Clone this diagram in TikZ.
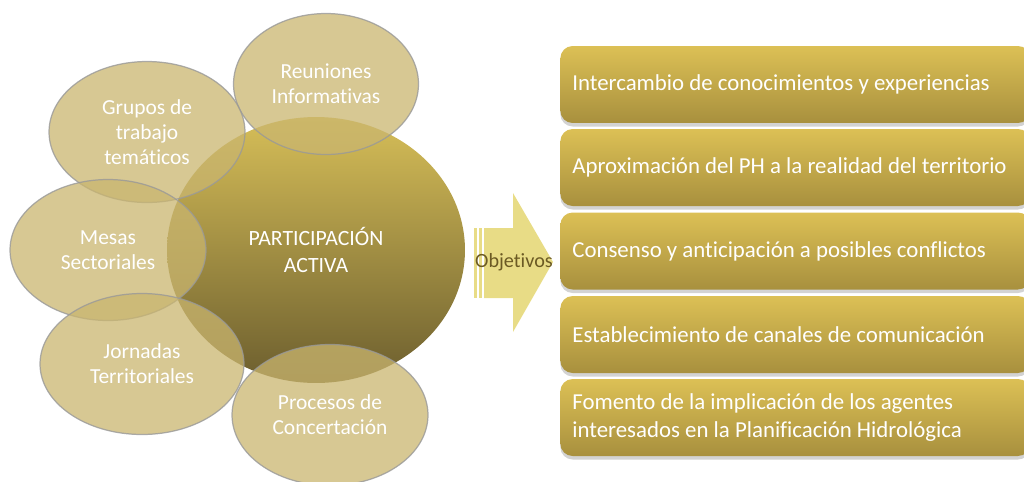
\documentclass[tikz,border=0pt]{standalone}
\usepackage{fontspec}
\setmainfont{Carlito}[Ligatures=NoCommon]
\usepackage{xcolor}
\usetikzlibrary{shapes,shadows,positioning}

\definecolor{tanfill}{HTML}{C9B56F}
\definecolor{bigtop}{HTML}{D6BE58}
\definecolor{bigbot}{HTML}{6C5E2E}
\definecolor{boxtop}{HTML}{DCC055}
\definecolor{boxbot}{HTML}{A8903E}
\definecolor{arrowfill}{HTML}{E8DC86}
\definecolor{arrowtext}{HTML}{6B5A24}

\begin{document}
\begin{tikzpicture}[
    x=0.02cm, y=-0.02cm,
    hub/.style={ellipse, minimum width=5.96cm, minimum height=5.32cm, inner sep=0pt,
        top color=bigtop, bottom color=bigbot, draw=none,
        text=white, align=center, font=\fontsize{12.4}{15.9}\selectfont},
    spoke/.style={ellipse, minimum width=3.92cm, minimum height=2.82cm, inner sep=0pt,
        fill=tanfill, fill opacity=0.75, text opacity=1, draw=gray!80, draw opacity=0.8, line width=0.7pt,
        text=white, align=center, font=\fontsize{12.2}{14.2}\selectfont},
    goal/.style={rectangle, rounded corners=7pt, minimum width=9.4cm, minimum height=1.54cm,
        inner xsep=0.24cm, text width=8.92cm, align=left, anchor=west,
        top color=boxtop, bottom color=boxbot, text=white,
        drop shadow={shadow xshift=0pt, shadow yshift=-2pt, opacity=0.35},
        font=\fontsize{13}{15.4}\selectfont,
        execute at begin node={\spaceskip=0pt\relax}},
    bar/.style={fill=arrowfill, draw=none}
]
\useasboundingbox (0,0) rectangle (1024,481);

% central circle
\node[hub] (activa) at (316,250) {PARTICIPACIÓN\\ACTIVA};

% surrounding ellipses
\node[spoke, minimum width=3.7cm] (reuniones) at (326,84) {Reuniones\\Informativas};
\node[spoke] (grupos) at (147,132) {Grupos de\\trabajo\\temáticos};
\node[spoke] (mesas) at (108,250) {Mesas\\Sectoriales};
\node[spoke, minimum width=4.08cm] (jornadas) at (142,364) {Jornadas\\Territoriales};
\node[spoke] (procesos) at (330,415) {Procesos de\\Concertación};

% block arrow
\fill[bar] (474,228) rectangle (477,298);
\fill[bar] (479,228) rectangle (482,298);
\fill[bar] (484,228) -- (513,228) -- (513,193) -- (553,262) -- (513,332) -- (513,298) -- (484,298) -- cycle;
\node[text=arrowtext, font=\fontsize{11.5}{13}\selectfont, inner sep=0pt] (objetivos) at (514,262) {Objetivos};

% objectives
\node[goal] (intercambio) at (560,84.5) {Intercambio de conocimientos y experiencias};
\node[goal] (aproximacion) at (560,167.5) {Aproximación del PH a la realidad del territorio};
\node[goal] (consenso) at (560,251) {Consenso y anticipación a posibles conflictos};
\node[goal] (canales) at (560,334.5) {Establecimiento de canales de comunicación};
\node[goal] (fomento) at (560,417.5) {Fomento de la implicación de los agentes\\interesados en la Planificación Hidrológica};

\end{tikzpicture}
\end{document}
